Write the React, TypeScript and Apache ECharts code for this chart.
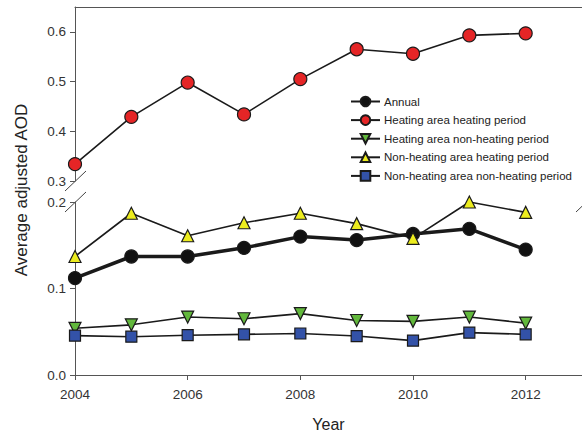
import React, { useEffect, useRef } from "react";
import * as echarts from "echarts";

const years = [2004, 2005, 2006, 2007, 2008, 2009, 2010, 2011, 2012];
const annual = [0.112, 0.137, 0.137, 0.147, 0.16, 0.156, 0.163, 0.169, 0.145];
const heatingHeating = [0.334, 0.429, 0.498, 0.434, 0.505, 0.565, 0.556, 0.593, 0.597];
const heatingNonHeating = [0.054, 0.058, 0.067, 0.065, 0.071, 0.063, 0.062, 0.067, 0.06];
const nonHeatingHeating = [0.137, 0.187, 0.161, 0.176, 0.187, 0.175, 0.158, 0.2, 0.188];
const nonHeatingNonHeating = [0.0455, 0.0443, 0.046, 0.047, 0.048, 0.045, 0.0397, 0.049, 0.047];

const xTicks = [2004, 2006, 2008, 2010, 2012];
const upperTicks = [0.3, 0.4, 0.5, 0.6];
const lowerTicks = [0, 0.1, 0.2];

const names = [
  "Annual",
  "Heating area heating period",
  "Heating area non-heating period",
  "Non-heating area heating period",
  "Non-heating area non-heating period",
];

const FONT = "Liberation Sans, Arial, sans-serif";
const AXIS = "#555";

const pairs = (ys: number[]) => years.map((y, i) => [y, ys[i]]);

export default function App() {
  const ref = useRef<HTMLDivElement>(null);
  useEffect(() => {
    if (!ref.current) return;
    const chart = echarts.init(ref.current, undefined, { renderer: "svg" });
    const yCommon = {
      type: "value" as const,
      interval: 0.1,
      axisLine: { show: true, lineStyle: { color: AXIS, width: 1 } },
      axisTick: { show: true, length: 5, lineStyle: { color: AXIS } },
      splitLine: { show: false },
      axisLabel: {
        color: "#333",
        fontSize: 13.5,
        fontFamily: FONT,
        margin: 9,
        formatter: (v: number) => v.toFixed(1),
      },
    };
    const lineSeries = (
      name: string,
      data: number[],
      grid: number,
      symbol: string,
      size: number,
      fill: string,
      width: number,
      rotate = 0
    ) => ({
      name,
      type: "line" as const,
      xAxisIndex: grid,
      yAxisIndex: grid,
      data: pairs(data),
      symbol,
      symbolSize: size,
      symbolRotate: rotate,
      clip: false,
      lineStyle: { color: "#1a1a1a", width },
      itemStyle: { color: fill, borderColor: "#1a1a1a", borderWidth: 1.2 },
      emphasis: { disabled: true },
    });
    chart.setOption({
      animation: false,
      grid: [
        { left: 75, top: 7, width: 511, height: 174 },
        { left: 75, top: 202, width: 511, height: 173 },
      ],
      xAxis: [
        {
          type: "value",
          gridIndex: 0,
          min: 2004,
          max: 2013,
          position: "top",
          axisLine: { show: true, onZero: false, lineStyle: { color: AXIS, width: 1 } },
          axisTick: { show: false },
          axisLabel: { show: false },
          splitLine: { show: false },
        },
        {
          type: "value",
          gridIndex: 1,
          min: 2004,
          max: 2013,
          interval: 2,
          name: "Year",
          nameLocation: "middle",
          nameGap: 41,
          nameTextStyle: { fontSize: 16, color: "#222", fontFamily: FONT },
          axisLine: { show: true, onZero: false, lineStyle: { color: AXIS, width: 1 } },
          axisTick: { show: true, length: 5, customValues: xTicks, lineStyle: { color: AXIS } },
          axisLabel: {
            customValues: xTicks,
            color: "#333",
            fontSize: 13.5,
            fontFamily: FONT,
            margin: 12,
            formatter: (v: number) => String(v),
          },
          splitLine: { show: false },
        },
      ],
      yAxis: [
        {
          ...yCommon,
          gridIndex: 0,
          min: 0.3,
          max: 0.65,
          axisTick: { ...yCommon.axisTick, customValues: upperTicks },
          axisLabel: { ...yCommon.axisLabel, customValues: upperTicks },
        },
        {
          ...yCommon,
          gridIndex: 1,
          min: 0,
          max: 0.2,
          axisTick: { ...yCommon.axisTick, customValues: lowerTicks },
          axisLabel: { ...yCommon.axisLabel, customValues: lowerTicks },
        },
      ],
      legend: {
        data: names,
        orient: "vertical",
        left: 350,
        top: 95.5,
        padding: 0,
        itemWidth: 29,
        itemHeight: 12,
        itemGap: 6.6,
        textStyle: { fontSize: 11.5, color: "#222", fontFamily: FONT, padding: [0, 0, 0, -1] },
        selectedMode: false,
      },
      series: [
        lineSeries(names[0], annual, 1, "circle", 13, "#111", 3.5),
        lineSeries(names[1], heatingHeating, 0, "circle", 13, "#e52526", 1.6),
        lineSeries(names[2], heatingNonHeating, 1, "triangle", 12, "#62b83c", 1.6, 180),
        lineSeries(names[3], nonHeatingHeating, 1, "triangle", 12, "#ecec1e", 1.6),
        lineSeries(names[4], nonHeatingNonHeating, 1, "rect", 11, "#3352a8", 1.6),
      ],
      graphic: [
        {
          type: "text",
          x: 21,
          y: 190,
          rotation: Math.PI / 2,
          style: {
            text: "Average adjusted AOD",
            fontSize: 17,
            fontFamily: FONT,
            fill: "#222",
            align: "center",
            verticalAlign: "middle",
          },
        },
        { type: "line", shape: { x1: 65, y1: 191, x2: 86, y2: 171 }, style: { stroke: "#444", lineWidth: 1 } },
        { type: "line", shape: { x1: 65, y1: 212, x2: 86, y2: 192 }, style: { stroke: "#444", lineWidth: 1 } },
        { type: "line", shape: { x1: 576, y1: 212, x2: 597, y2: 192 }, style: { stroke: "#444", lineWidth: 1 } },
      ],
    });
    return () => chart.dispose();
  }, []);
  return (
    <div
      ref={ref}
      style={{ position: "fixed", left: 0, top: 0, width: 582, height: 436, background: "#fff" }}
    />
  );
}
